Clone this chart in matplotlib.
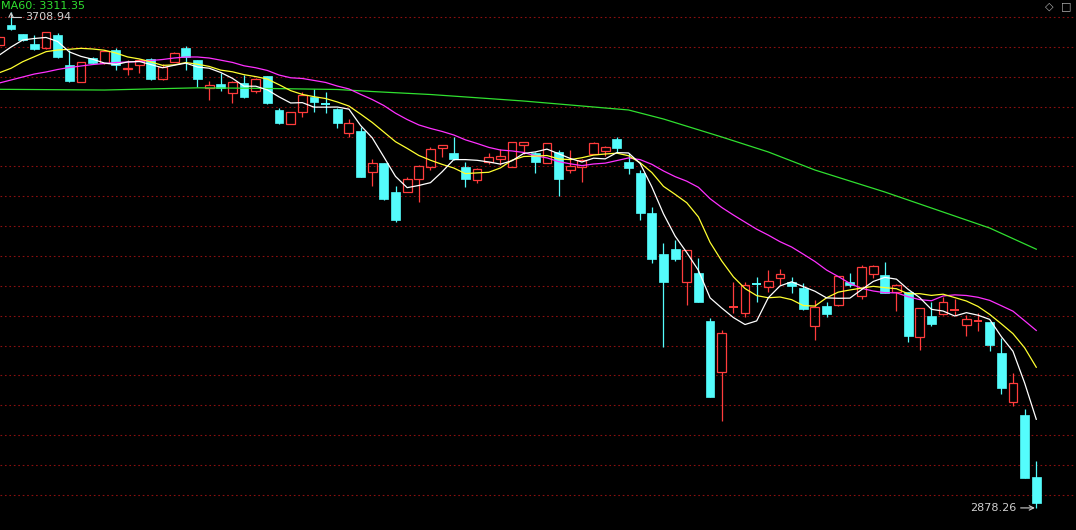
import numpy as np
import pandas as pd
import matplotlib
matplotlib.use("Agg")
import matplotlib.pyplot as plt

# ---- daily candles (index = trading day in view) ----
opens = [3653.2, 3686.7, 3671.1, 3654.8, 3647.6, 3669.9, 3619.7, 3590.7, 3630.9, 3622.5,
         3644.8, 3613.3, 3619.7, 3629.2, 3595.8, 3625.2, 3647.6, 3628.1, 3580.7, 3587.9,
         3572.3, 3589.1, 3576.7, 3601.3, 3544.4, 3520.4, 3540.5, 3566.6, 3556.1, 3546.0,
         3506.4, 3509.2, 3441.1, 3455.1, 3407.6, 3407.6, 3428.9, 3449.5, 3480.2, 3471.9,
         3449.5, 3427.2, 3456.8, 3461.8, 3449.5, 3485.8, 3472.9, 3456.1, 3473.5, 3443.9,
         3449.5, 3470.2, 3475.7, 3495.3, 3457.8, 3439.4, 3371.4, 3303.3, 3311.7, 3256.9,
         3271.0, 3191.1, 3106.3, 3214.6, 3204.0, 3254.8, 3248.6, 3263.6, 3255.9, 3246.9,
         3183.3, 3216.3, 3217.9, 3255.9, 3233.5, 3269.8, 3268.2, 3240.2, 3239.2, 3163.9,
         3200.0, 3202.4, 3208.7, 3184.4, 3190.3, 3189.0, 3138.1, 3056.1, 3033.8, 2930.5]
highs = [3668.2, 3708.94, 3672.4, 3669.9, 3674.9, 3673.3, 3644.8, 3624.7, 3633.1, 3644.8,
         3648.2, 3628.1, 3629.7, 3631.4, 3621.4, 3641.5, 3651.5, 3628.5, 3592.9, 3606.3,
         3592.9, 3603.0, 3597.9, 3602.1, 3548.2, 3541.0, 3575.0, 3579.0, 3575.0, 3546.9,
         3528.8, 3516.4, 3461.8, 3455.6, 3417.1, 3432.7, 3452.3, 3482.9, 3486.6, 3499.7,
         3457.8, 3447.3, 3471.9, 3478.6, 3490.8, 3490.8, 3474.1, 3489.1, 3477.4, 3477.4,
         3462.3, 3490.0, 3483.3, 3499.7, 3471.9, 3443.9, 3382.5, 3321.2, 3326.7, 3310.8,
         3296.1, 3195.7, 3176.1, 3256.9, 3256.9, 3265.3, 3276.5, 3278.2, 3265.3, 3254.3,
         3226.3, 3223.0, 3267.0, 3271.0, 3284.9, 3284.9, 3290.4, 3253.1, 3239.7, 3212.9,
         3223.5, 3231.8, 3227.5, 3201.2, 3204.0, 3189.5, 3162.2, 3103.6, 3043.3, 2957.3]
lows = [3651.5, 3679.1, 3659.9, 3645.6, 3646.5, 3631.4, 3590.4, 3590.4, 3621.4, 3621.4,
        3611.3, 3603.0, 3606.8, 3595.4, 3594.6, 3624.7, 3611.3, 3582.9, 3561.1, 3576.2,
        3556.1, 3563.9, 3572.8, 3555.2, 3520.4, 3520.1, 3532.1, 3541.5, 3539.8, 3514.7,
        3498.7, 3432.2, 3417.1, 3393.7, 3357.4, 3407.1, 3390.9, 3443.9, 3465.2, 3460.7,
        3416.0, 3421.7, 3454.0, 3452.3, 3448.9, 3470.7, 3438.4, 3455.6, 3400.4, 3438.4,
        3424.3, 3469.9, 3467.9, 3471.9, 3437.2, 3360.2, 3287.7, 3148.1, 3292.1, 3217.9,
        3223.0, 3063.9, 3024.2, 3204.0, 3197.3, 3223.5, 3240.2, 3251.4, 3237.5, 3210.4,
        3159.3, 3197.3, 3217.0, 3247.6, 3227.5, 3262.6, 3237.2, 3208.4, 3156.5, 3142.6,
        3182.8, 3201.2, 3201.2, 3166.5, 3174.4, 3141.4, 3069.0, 3048.9, 2928.3, 2878.26]
closes = [3666.6, 3680.0, 3661.5, 3646.5, 3674.4, 3632.6, 3592.9, 3624.2, 3622.5, 3643.1,
          3619.7, 3614.7, 3628.1, 3596.3, 3616.8, 3640.3, 3632.6, 3595.8, 3586.2, 3580.7,
          3591.7, 3566.6, 3595.8, 3555.6, 3522.1, 3540.5, 3569.5, 3558.3, 3555.2, 3523.1,
          3523.1, 3432.7, 3455.1, 3394.9, 3360.2, 3428.9, 3451.1, 3478.6, 3485.8, 3462.3,
          3428.9, 3445.1, 3465.2, 3467.4, 3490.3, 3490.3, 3457.8, 3488.6, 3428.9, 3450.6,
          3460.7, 3489.6, 3482.9, 3481.3, 3447.8, 3372.4, 3294.4, 3256.9, 3294.9, 3310.0,
          3223.5, 3064.4, 3171.6, 3215.4, 3251.4, 3253.9, 3258.6, 3269.8, 3250.2, 3211.2,
          3215.1, 3202.9, 3266.5, 3251.4, 3282.0, 3283.7, 3237.5, 3251.4, 3166.0, 3212.4,
          3186.1, 3223.5, 3209.6, 3194.0, 3191.1, 3151.0, 3079.5, 3086.8, 2928.8, 2887.0]

# moving-average values before the window is complete
ma5_head = [3636.4, 3649.8, 3661.5, 3664.1]
ma10_head = [3606.8, 3614.2, 3625.2, 3633.6, 3642.0, 3644.8, 3646.0, 3647.6, 3646.5]
ma20_head = [3589.6, 3594.6, 3599.6, 3604.6, 3608.0, 3612.2, 3615.5, 3618.0, 3620.5, 3622.2,
             3623.9, 3624.7, 3625.5, 3627.2, 3628.9, 3631.4, 3633.1, 3633.1, 3631.4]
# MA60 at some days
ma60_days = [0, 9, 17, 22, 29, 32, 37, 45, 54, 57, 62, 66, 70, 76, 81, 85, 89]
ma60_vals = [3579.0, 3577.8, 3581.5, 3580.7, 3578.7, 3575.3, 3570.3, 3559.4, 3544.4, 3529.3,
             3499.2, 3474.1, 3443.9, 3407.1, 3373.6, 3346.8, 3311.35]

grid_levels = list(range(2900, 3701, 50))
high_label = "3708.94"
low_label = "2878.26"
ma60_label = "MA60: 3311.35"

# ---- figure ----
W, H = 1076, 530
fig = plt.figure(figsize=(W / 100, H / 100), dpi=100, facecolor="black")
ax = fig.add_axes([0, 0, 1, 1], facecolor="black")
ax.set_xlim(0.05, 92.41)
ax.set_ylim(2841.3, 3728.5)
ax.set_axis_off()

for lv in grid_levels:
    ax.axhline(lv, color="#8a1010", lw=0.8, ls=(0, (1.5, 2.5)), zorder=0)

UP = "#ff3c3c"
DN = "#54fcfc"
bw = 0.76
x = np.arange(len(closes))
o = np.array(opens); c = np.array(closes); h = np.array(highs); l = np.array(lows)

for i in x:
    top, bot = max(o[i], c[i]), min(o[i], c[i])
    if c[i] >= o[i]:
        ax.vlines(i, top, h[i], color=UP, lw=0.9, zorder=2)
        ax.vlines(i, l[i], bot, color=UP, lw=0.9, zorder=2)
        if top - bot < 1.0:
            ax.hlines(c[i], i - bw / 2, i + bw / 2, color=UP, lw=1.4, zorder=3)
        else:
            ax.bar(i, top - bot, bottom=bot, width=bw, fill=False, edgecolor=UP,
                   linewidth=0.9, zorder=3)
    else:
        ax.vlines(i, l[i], h[i], color=DN, lw=0.9, zorder=2)
        if top - bot < 1.0:
            ax.hlines(c[i], i - bw / 2, i + bw / 2, color=DN, lw=1.4, zorder=3)
        else:
            ax.bar(i, top - bot, bottom=bot, width=bw, color=DN, edgecolor=DN,
                   linewidth=0.5, zorder=3)

cs = pd.Series(closes)
ma5 = cs.rolling(5).mean().to_numpy(); ma5[:4] = ma5_head
ma10 = cs.rolling(10).mean().to_numpy(); ma10[:9] = ma10_head
ma20 = cs.rolling(20).mean().to_numpy(); ma20[:19] = ma20_head

ax.plot(ma60_days, ma60_vals, color="#30e030", lw=0.9, zorder=4)
ax.plot(x, ma20, color="#ff30ff", lw=0.9, zorder=4)
ax.plot(x, ma10, color="#ffff30", lw=0.9, zorder=4)
ax.plot(x, ma5, color="#ffffff", lw=0.9, zorder=4)

# annotations
ax.annotate(high_label, xy=(1, highs[1]), xytext=(2.2, 3700),
            color="#d0d0d0", fontsize=8, va="center", ha="left",
            arrowprops=dict(arrowstyle="->", color="#d0d0d0", lw=0.8,
                            connectionstyle="angle,angleA=0,angleB=90,rad=0",
                            shrinkA=1, shrinkB=0))
ax.annotate(low_label, xy=(89, lows[89]), xytext=(87.3, lows[89]),
            color="#d0d0d0", fontsize=8, va="center", ha="right",
            arrowprops=dict(arrowstyle="->", color="#d0d0d0", lw=0.8,
                            shrinkA=1, shrinkB=1))
fig.text(0.001, 0.999, ma60_label, color="#30e030", fontsize=8,
         ha="left", va="top")

# small toolbar icons at top right
fig.text(0.9755, 0.997, "\u25c7", color="#b0b0b0", fontsize=8, ha="center", va="top")
fig.text(0.9905, 0.997, "\u25a1", color="#b0b0b0", fontsize=8, ha="center", va="top")

fig.savefig("out.png", dpi=100, facecolor="black")
